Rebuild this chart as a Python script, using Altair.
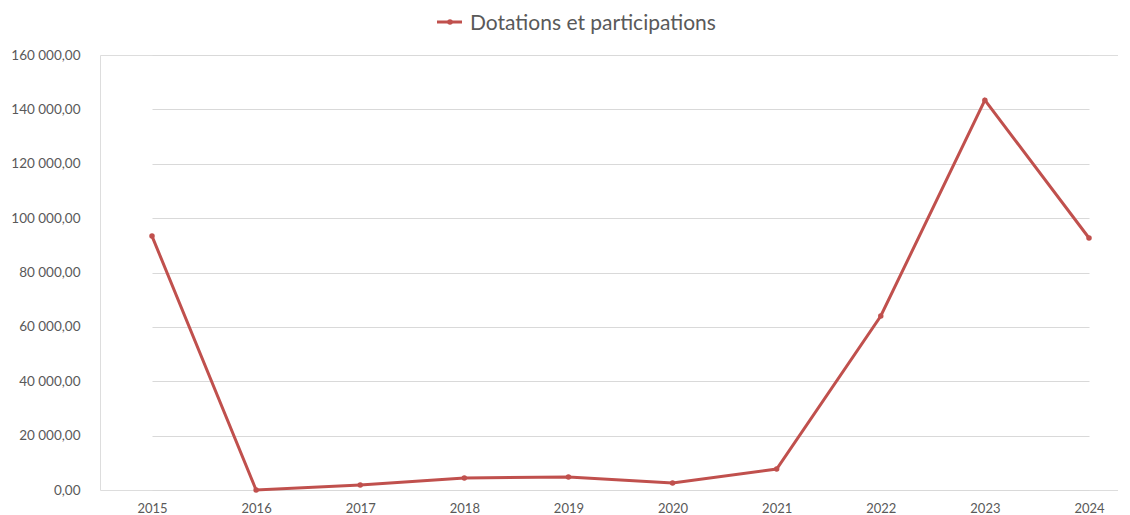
import altair as alt
import pandas as pd

years = ["2015", "2016", "2017", "2018", "2019", "2020", "2021", "2022", "2023", "2024"]
values = [93400, 0, 1800, 4400, 4800, 2600, 7700, 64000, 143400, 92700]
series_name = "Dotations et participations"

df = pd.DataFrame({"year": years, "value": values})

FONT = "Lato"
RED = "#C0504D"
GREY = "#595959"

x = alt.X("year:O", scale=alt.Scale(type="point", range=[52, 989], padding=0),
          axis=alt.Axis(title=None, labelAngle=0, ticks=False, domain=False, grid=False,
                        labelFont=FONT, labelFontSize=13, labelColor=GREY, labelPadding=12))
y = alt.Y("value:Q", scale=alt.Scale(domain=[0, 160000], nice=False),
          axis=alt.Axis(title=None, values=list(range(0, 160001, 20000)), ticks=False, domain=False,
                        labelFont=FONT, labelFontSize=13.5, labelColor=GREY, labelPadding=20,
                        gridColor="#D9D9D9", gridWidth=1.2,
                        labelExpr="replace(replace(format(datum.value, ',.2f'), /,/g, ' '), /\\./, ',')"))

line = alt.Chart(df).mark_line(color=RED, strokeWidth=3).encode(x=x, y=y)
pts = alt.Chart(df).mark_circle(color=RED, size=30, opacity=1).encode(x=x, y=y)

leg_df = pd.DataFrame({"name": [series_name]})
leg_line = alt.Chart(leg_df).mark_rule(color=RED, strokeWidth=3).encode(
    x=alt.value(337), x2=alt.value(362), y=alt.value(-33))
leg_pt = alt.Chart(leg_df).mark_circle(color=RED, size=30, opacity=1).encode(
    x=alt.value(350), y=alt.value(-33))
leg_txt = alt.Chart(leg_df).mark_text(align="left", baseline="middle", font=FONT, fontSize=21,
                                      color=GREY).encode(
    x=alt.value(370), y=alt.value(-31), text="name:N")

chart = alt.layer(line, pts, leg_line, leg_pt, leg_txt).properties(
    width=1018, height=435,
    autosize=alt.AutoSizeParams(type="none"),
    padding={"left": 92, "top": 47, "right": 0, "bottom": 24},
).configure_view(stroke=None).configure(background="white")

chart.save("out.html", embed_options={"renderer": "svg", "actions": False})
